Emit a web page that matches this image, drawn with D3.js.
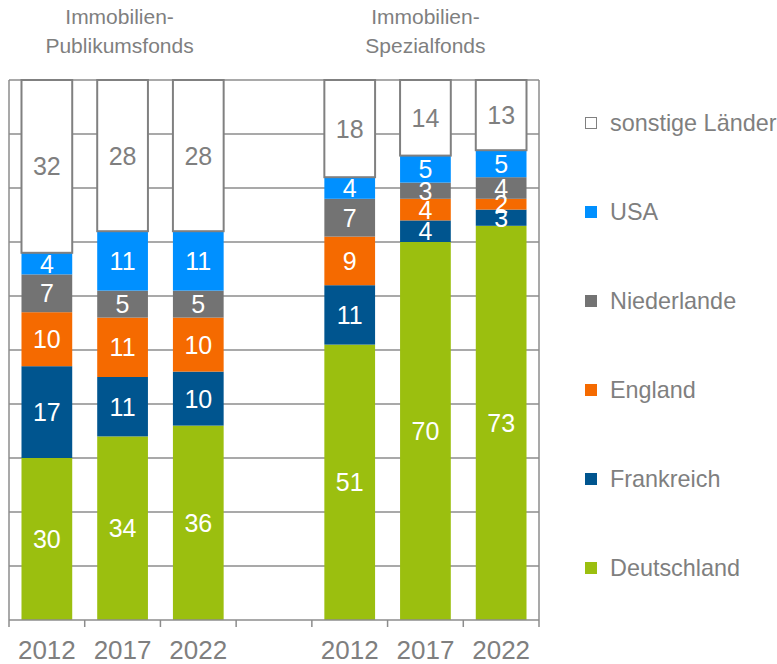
<!DOCTYPE html>
<html>
<head>
<meta charset="utf-8">
<script src="https://cdn.jsdelivr.net/npm/d3@7"></script>
<style>
  body { margin: 0; background: #fff; }
  svg text { font-family: Arial, "Liberation Sans", sans-serif; }
</style>
</head>
<body>
<div id="chart"></div>
<script>
// values in percent, order: Publikumsfonds 2012/2017/2022, Spezialfonds 2012/2017/2022
var years = ["2012", "2017", "2022", "2012", "2017", "2022"];
var slots = [0, 1, 2, 4, 5, 6];
var groupTitles = [["Immobilien-", "Publikumsfonds"], ["Immobilien-", "Spezialfonds"]];
var countries = ["Deutschland", "Frankreich", "England", "Niederlande", "USA", "sonstige Länder"];

var deutschland = [30, 34, 36, 51, 70, 73];
var frankreich  = [17, 11, 10, 11, 4, 3];
var england     = [10, 11, 10, 9, 4, 2];
var niederlande = [7, 5, 5, 7, 3, 4];
var usa         = [4, 11, 11, 4, 5, 5];
var sonstige    = [32, 28, 28, 18, 14, 13];

var series = [deutschland, frankreich, england, niederlande, usa, sonstige];
var colors = ["#9bbf0f", "#00558f", "#f56a00", "#737373", "#0090ff", "#ffffff"];
var textColor = "#7f7f7f";

var width = 777, height = 664;
var plot = {left: 9, right: 539, top: 80, bottom: 620};

var svg = d3.select("#chart")
    .append("svg")
        .attr("width", width)
        .attr("height", height);

var x = d3.scaleBand()
    .domain(d3.range(7))
    .range([plot.left, plot.right])
    .paddingInner(0.33)
    .paddingOuter(0.165);

var y = d3.scaleLinear()
    .domain([0, 100])
    .range([plot.bottom, plot.top]);

// gridlines
svg.append("g")
    .selectAll("line")
    .data(d3.range(10, 101, 10))
    .enter()
    .append("line")
    .attr("x1", plot.left)
    .attr("x2", plot.right)
    .attr("y1", function(d) { return y(d); })
    .attr("y2", function(d) { return y(d); })
    .attr("stroke", "#8c8c8c")
    .attr("stroke-width", 1.5);

// left and right border
svg.append("g")
    .selectAll("line")
    .data([plot.left, plot.right])
    .enter()
    .append("line")
    .attr("x1", function(d) { return d; })
    .attr("x2", function(d) { return d; })
    .attr("y1", plot.top)
    .attr("y2", plot.bottom)
    .attr("stroke", "#8c8c8c")
    .attr("stroke-width", 1.5);

// stacked data
var stacks = slots.map(function(s, i) {
    var base = 0;
    return series.map(function(ser, k) {
        var seg = {slot: s, k: k, y0: base, y1: base + ser[i], v: ser[i]};
        base += ser[i];
        return seg;
    });
});
var segs = [].concat.apply([], stacks);

var bars = svg.append("g");
bars.selectAll("rect")
    .data(segs)
    .enter()
    .append("rect")
    .attr("x", function(d) { return x(d.slot); })
    .attr("width", x.bandwidth())
    .attr("y", function(d) { return y(d.y1); })
    .attr("height", function(d) { return y(d.y0) - y(d.y1); })
    .attr("fill", function(d) { return colors[d.k]; })
    .attr("stroke", function(d) { return d.k == 5 ? "#808080" : "none"; })
    .attr("stroke-width", 2);

bars.selectAll("text")
    .data(segs)
    .enter()
    .append("text")
    .attr("x", function(d) { return x(d.slot) + x.bandwidth() / 2; })
    .attr("y", function(d) { return (y(d.y0) + y(d.y1)) / 2; })
    .attr("dy", "0.36em")
    .attr("text-anchor", "middle")
    .style("font-size", "25px")
    .attr("fill", function(d) { return d.k == 5 ? textColor : "#ffffff"; })
    .text(function(d) { return d.v; });

// x axis
var step = x.step();
svg.append("line")
    .attr("x1", plot.left)
    .attr("x2", plot.right)
    .attr("y1", plot.bottom)
    .attr("y2", plot.bottom)
    .attr("stroke", "#8c8c8c")
    .attr("stroke-width", 1.5);

svg.append("g")
    .selectAll("line")
    .data(d3.range(8))
    .enter()
    .append("line")
    .attr("x1", function(d) { return plot.left + d * step; })
    .attr("x2", function(d) { return plot.left + d * step; })
    .attr("y1", plot.bottom)
    .attr("y2", plot.bottom + 7)
    .attr("stroke", "#8c8c8c")
    .attr("stroke-width", 1.5);

svg.append("g")
    .selectAll("text")
    .data(slots)
    .enter()
    .append("text")
    .attr("x", function(d) { return x(d) + x.bandwidth() / 2; })
    .attr("y", 659)
    .attr("text-anchor", "middle")
    .style("font-size", "26px")
    .attr("fill", textColor)
    .text(function(d, i) { return years[i]; });

// group titles
groupTitles.forEach(function(lines, g) {
    var cx = x(g == 0 ? 1 : 5) + x.bandwidth() / 2 - (g == 0 ? 3 : 0);
    svg.append("text")
        .attr("x", cx)
        .attr("y", 24)
        .attr("text-anchor", "middle")
        .style("font-size", "21px")
        .attr("fill", textColor)
        .text(lines[0]);
    svg.append("text")
        .attr("x", cx)
        .attr("y", 53)
        .attr("text-anchor", "middle")
        .style("font-size", "21px")
        .attr("fill", textColor)
        .text(lines[1]);
});

// legend, top to bottom: sonstige ... Deutschland
var legend = svg.append("g")
    .selectAll("g")
    .data(d3.range(countries.length).reverse())
    .enter()
    .append("g")
    .attr("transform", function(d, i) { return "translate(585," + (123 + i * 89) + ")"; });

legend.append("rect")
    .attr("x", 0.5)
    .attr("y", -5.5)
    .attr("width", 11)
    .attr("height", 11)
    .attr("fill", function(d) { return colors[d]; })
    .attr("stroke", function(d) { return d == 5 ? "#808080" : colors[d]; })
    .attr("stroke-width", 1);

legend.append("text")
    .attr("x", 25)
    .attr("dy", "0.36em")
    .style("font-size", "23.4px")
    .attr("fill", textColor)
    .text(function(d) { return countries[d]; });
</script>
</body>
</html>
